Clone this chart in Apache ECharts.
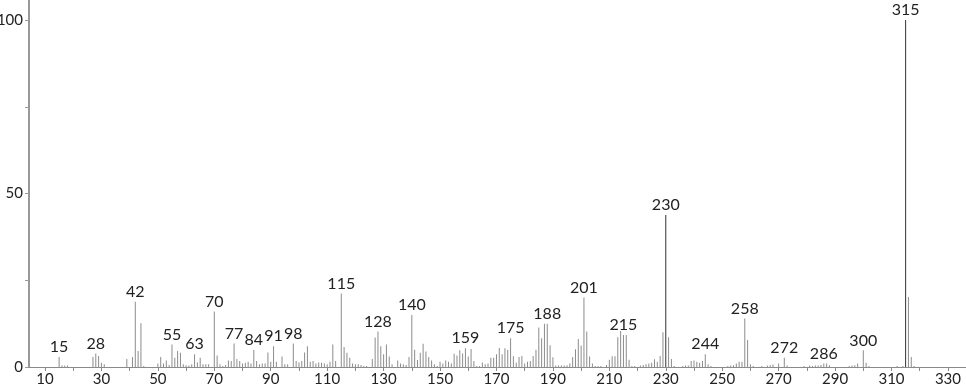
<!DOCTYPE html>
<html>
<head>
<meta charset="utf-8">
<script src="https://cdn.jsdelivr.net/npm/echarts@6/dist/echarts.min.js"></script>
<style>
html,body{margin:0;padding:0;background:#fff;}
#chart{width:966px;height:389px;}
</style>
</head>
<body>
<div id="chart"></div>
<script>
// m/z values and relative intensities (%)
const mzValues = [
  15,16,17,18,
  27,28,29,30,31,
  39,41,42,43,44,45,
  50,51,52,53,54,55,56,57,58,59,60,61,62,63,64,65,66,67,68,70,71,72,
  73,74,75,76,77,78,79,80,81,82,83,84,85,86,87,88,89,90,91,92,94,95,96,98,99,100,
  101,102,103,104,105,106,107,108,109,110,111,112,113,115,116,117,118,119,120,
  121,122,123,124,126,127,128,129,130,131,132,133,135,136,137,138,139,140,
  141,142,143,144,145,146,147,148,149,150,151,152,153,154,155,156,157,158,159,160,
  161,162,163,164,165,166,167,168,169,170,171,172,173,174,175,176,177,178,179,180,
  181,182,183,184,185,186,187,188,189,190,191,192,193,194,195,196,197,198,199,200,
  201,202,203,204,205,206,207,209,210,211,212,213,214,215,216,217,218,219,
  221,222,223,224,225,226,227,228,229,230,231,232,233,236,237,238,239,240,
  241,242,243,244,245,246,252,253,254,255,256,257,258,259,260,261,
  264,266,267,268,270,272,273,279,281,282,283,284,285,286,287,288,
  295,296,297,298,300,301,302,312,314,315,316,317,318
];
const intensities = [
  2.9,0.4,0.4,0.4,
  2.9,3.9,3.2,1.2,0.8,
  2.3,2.9,18.8,4.6,12.6,0.3,
  1.0,2.9,1.0,1.9,0.6,6.5,2.7,4.6,4.1,0.8,0.5,0.4,0.8,3.7,1.3,2.7,0.8,0.8,0.8,16.0,3.3,0.8,
  0.3,0.6,1.9,1.7,6.8,2.3,1.7,1.0,1.2,1.5,1.0,4.9,1.7,0.8,1.0,1.0,4.2,1.5,6.0,1.5,3.0,0.8,0.8,6.8,1.7,1.3,
  1.7,4.2,6.0,1.5,1.7,1.0,1.3,1.2,1.0,0.8,1.5,6.5,1.7,21.2,5.8,4.1,2.7,1.0,0.8,
  0.8,0.6,0.3,0.3,2.3,8.5,10.2,6.0,3.7,6.5,3.0,0.8,1.9,1.0,0.8,0.6,2.9,15.0,
  5.0,2.0,4.1,6.7,4.5,2.9,1.9,0.8,0.3,1.5,1.0,1.9,1.5,1.0,3.8,3.3,4.8,3.9,5.4,3.0,
  5.2,1.7,0.3,0.3,1.3,0.8,1.0,2.7,2.7,3.7,5.5,3.7,5.4,4.9,8.3,3.1,1.2,2.9,3.2,1.0,
  1.5,1.7,3.2,5.0,11.4,8.3,12.5,12.5,6.3,2.8,0.4,0.4,0.4,0.4,0.5,1.0,2.9,5.1,8.1,6.2,
  20.0,10.2,3.0,1.0,0.3,0.3,0.3,0.6,2.1,3.1,3.1,8.6,10.4,9.2,9.2,2.1,0.3,0.3,
  0.4,0.6,0.8,1.0,1.2,2.2,1.5,3.2,10.0,43.8,8.6,2.3,0.3,0.3,0.4,0.4,1.7,1.9,
  1.5,1.2,1.7,3.7,0.8,0.3,0.3,0.4,0.5,1.0,1.5,1.5,14.0,7.8,0.8,0.3,
  0.3,0.4,0.6,0.7,1.0,2.7,0.4,0.3,0.4,0.3,0.4,0.4,0.6,1.0,1.0,0.5,
  0.3,0.4,0.5,1.0,4.8,1.2,0.3,0.3,0.3,100,20.2,2.9,0.3
];
const labeledPeaks = [15,28,42,55,63,70,77,84,91,98,115,128,140,159,175,188,201,215,230,244,258,272,286,300,315];
const xTickValues = [10,20,30,40,50,60,70,80,90,100,110,120,130,140,150,160,170,180,190,200,210,220,230,240,250,260,270,280,290,300,310,320,330];
const xLabelValues = [10,30,50,70,90,110,130,150,170,190,210,230,250,270,290,310,330];
const yTickValues = [0,25,50,75,100];
const yLabelValues = [0,50,100];

const FONT = 'Lato, "DejaVu Sans", sans-serif';

const seriesData = mzValues.map((mz, i) => {
  const item = { value: [mz, intensities[i]] };
  if (labeledPeaks.indexOf(mz) >= 0) {
    item.label = { show: true };
  }
  if (intensities[i] > 30) {
    item.itemStyle = { color: '#333' };
  }
  return item;
});

const chart = echarts.init(document.getElementById('chart'), null, { renderer: 'canvas' });
chart.setOption({
  animation: false,
  backgroundColor: '#fff',
  grid: { left: 29, right: 0, top: 0, bottom: 22, containLabel: false, outerBoundsMode: 'none' },
  xAxis: {
    type: 'value',
    min: 4.33,
    max: 336.4,
    splitLine: { show: false },
    axisLine: { show: true, onZero: false, lineStyle: { color: '#8a8a8a', width: 1 } },
    axisTick: { show: true, customValues: xTickValues, length: 4, lineStyle: { color: '#8a8a8a' } },
    axisLabel: { customValues: xLabelValues, fontSize: 15, color: '#222', margin: 5, fontFamily: FONT }
  },
  yAxis: {
    type: 'value',
    min: 0,
    max: 105.8,
    splitLine: { show: false },
    axisLine: { show: true, lineStyle: { color: '#999', width: 2 } },
    axisTick: { show: true, customValues: yTickValues, length: 4, lineStyle: { color: '#999' } },
    axisLabel: { customValues: yLabelValues, fontSize: 15, color: '#222', margin: 6, fontFamily: FONT }
  },
  series: [{
    type: 'bar',
    data: seriesData,
    barWidth: 1,
    itemStyle: { color: '#8c8c8c' },
    label: {
      show: false,
      position: 'top',
      distance: 2,
      fontSize: 16,
      color: '#222',
      fontFamily: FONT,
      formatter: p => String(p.value[0])
    }
  }]
});
</script>
</body>
</html>
